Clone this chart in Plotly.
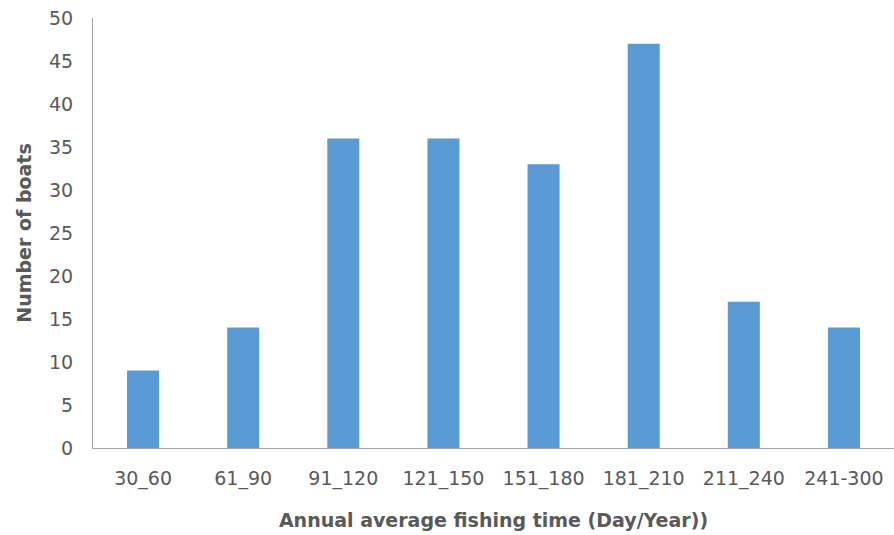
import plotly.graph_objects as go

# Annual average fishing time bins and boat counts
categories = ["30_60", "61_90", "91_120", "121_150", "151_180", "181_210", "211_240", "241-300"]
boats = [9, 14, 36, 36, 33, 47, 17, 14]
y_ticks = [0, 5, 10, 15, 20, 25, 30, 35, 40, 45, 50]

font_family = "DejaVu Sans, sans-serif"
text_grey = "#595959"

fig = go.Figure(
    go.Bar(
        x=categories,
        y=boats,
        marker=dict(color="#5B9BD5", line=dict(width=0)),
    )
)

fig.update_layout(
    width=894,
    height=535,
    margin=dict(l=93, r=0, t=18, b=87),
    paper_bgcolor="white",
    plot_bgcolor="white",
    bargap=0.68,
    showlegend=False,
    font=dict(family=font_family, color=text_grey, size=19),
)

fig.update_xaxes(
    showgrid=False,
    showline=True,
    linecolor="#a6a6a6",
    linewidth=1,
    ticks="",
    ticklabelstandoff=13,
    tickfont=dict(size=19, color=text_grey),
    title=dict(
        text="<b>Annual average fishing time (Day/Year))</b>",
        font=dict(size=19, color=text_grey),
        standoff=24,
    ),
)

fig.update_yaxes(
    range=[0, 50],
    tickvals=y_ticks,
    showgrid=False,
    zeroline=False,
    showline=True,
    linecolor="#a6a6a6",
    linewidth=1,
    ticks="",
    ticklabelstandoff=15,
    tickfont=dict(size=19, color=text_grey),
    title=dict(
        text="<b>Number of boats</b>",
        font=dict(size=19, color=text_grey),
        standoff=12,
    ),
)

fig.write_html("out.html")
